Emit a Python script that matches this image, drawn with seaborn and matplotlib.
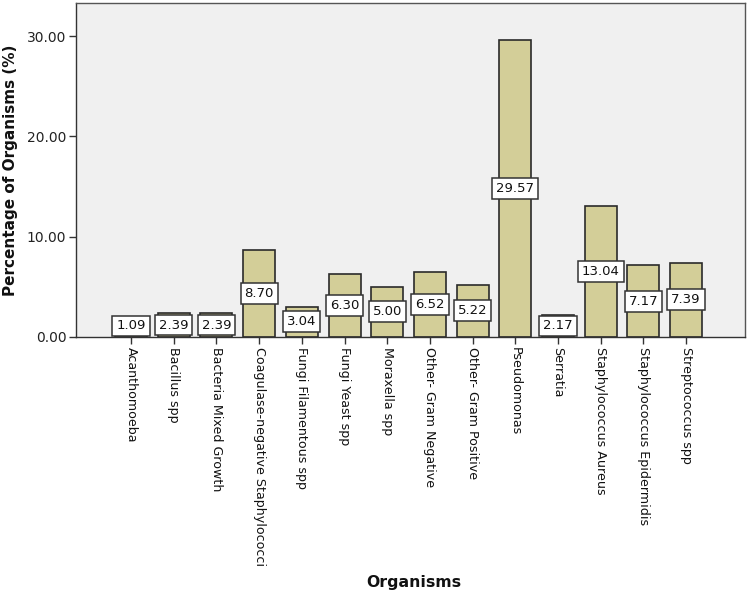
import matplotlib
matplotlib.use("Agg")
import matplotlib.pyplot as plt
import seaborn as sns
import pandas as pd

organisms = ["Acanthomoeba", "Bacillus spp", "Bacteria Mixed Growth",
             "Coagulase-negative Staphylococci", "Fungi Filamentous spp",
             "Fungi Yeast spp", "Moraxella spp", "Other- Gram Negative",
             "Other- Gram Positive", "Pseudomonas", "Serratia",
             "Staphylococcus Aureus", "Staphylococcus Epidermidis",
             "Streptococcus spp"]
percentages = [1.09, 2.39, 2.39, 8.70, 3.04, 6.30, 5.00, 6.52, 5.22,
               29.57, 2.17, 13.04, 7.17, 7.39]
y_ticks = [0, 10, 20, 30]

df = pd.DataFrame({"Organisms": organisms, "Percentage": percentages})

sns.set_style("white")
plt.rcParams["font.family"] = ["DejaVu Sans"]

fig = plt.figure(figsize=(7.47, 5.98), dpi=100)
ax = fig.add_axes([76 / 747, (598 - 337) / 598, 669 / 747, 334 / 598])
ax.set_facecolor("#F0F0F0")

sns.barplot(data=df, x="Organisms", y="Percentage", ax=ax,
            color="#D3CE98", saturation=1, width=0.75,
            edgecolor="#2a2a2a", linewidth=1.2)

for i, v in enumerate(percentages):
    ax.text(i, max(v / 2, 1.1), f"{v:.2f}", ha="center", va="center",
            fontsize=9.5, color="#111111",
            bbox=dict(boxstyle="square,pad=0.3", fc="white",
                      ec="#333333", lw=1.1))

ax.set_xlim(-1.29, 14.38)
ax.set_ylim(0, 33.3)
ax.set_yticks(y_ticks)
ax.set_yticklabels([f"{t:.2f}" for t in y_ticks], fontsize=10, color="#222222")
ax.set_xticks(range(len(organisms)))
ax.set_xticklabels(organisms, rotation=270, fontsize=9.1, color="#111111",
                   ha="center", va="top")
ax.tick_params(axis="both", direction="out", length=5, width=1,
               color="#333333", bottom=True, left=True, pad=2)

for s in ax.spines.values():
    s.set_visible(True)
    s.set_color("#555555")
    s.set_linewidth(1.0)
ax.spines["bottom"].set_color("#333333")
ax.spines["left"].set_color("#333333")

ax.set_ylabel("")
ax.set_xlabel("")
fig.text(11 / 747, 1 - 170 / 598, "Percentage of Organisms (%)", ha="center",
         va="center", rotation=90, fontsize=11, fontweight="bold",
         color="#111111")
fig.text(414 / 747, 1 - 583 / 598, "Organisms", ha="center", va="center",
         fontsize=11.3, fontweight="bold", color="#111111")

fig.savefig("out.png", dpi=100, facecolor="white")
